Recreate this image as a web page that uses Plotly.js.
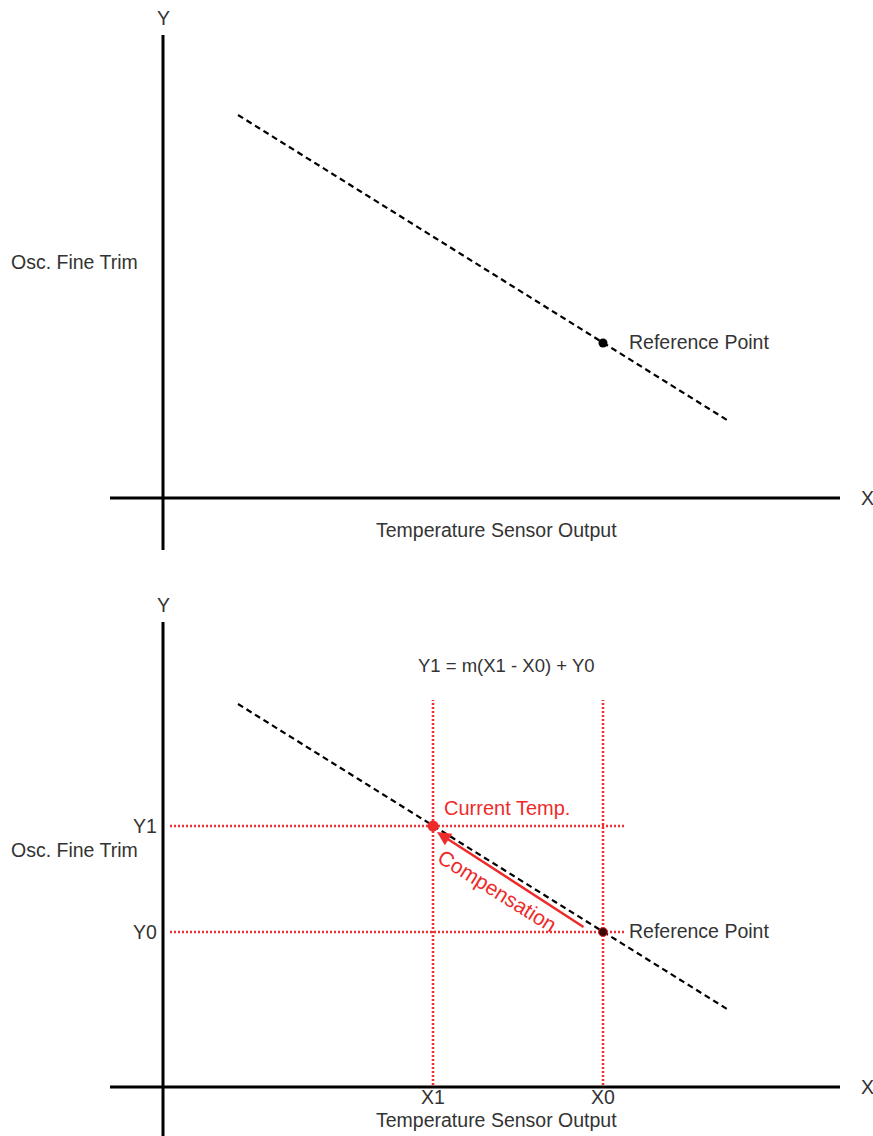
<!DOCTYPE html>
<html>
<head>
<meta charset="utf-8">
<script src="https://cdn.plot.ly/plotly-3.0.1.min.js"></script>
<style>html,body{margin:0;padding:0;background:#fff;}#chart{width:873px;height:1136px;}</style>
</head>
<body>
<div id="chart"></div>
<script>
// ---- data (diagram units: origin at the axis crossing) ----
const trendX = [7.5, 56.4];          // temperature sensor output
const trendY = [38.3, 7.8];          // oscillator fine trim
const referencePoint = [44.0, 15.5]; // X0, Y0
const currentPoint = [27.0, 26.1];   // X1, Y1
const xAxisExtent = [-5.3, 67.7];
const yAxisExtentTop = [-5.2, 46.3];
const yAxisExtentBottom = [-5.0, 46.5];
const guideTop = 38.7;
const guideRight = 46.2;
const guideLeft = 0.7;
const tickLabelsX = ["X1", "X0"];
const tickLabelsY = ["Y1", "Y0"];

const TEXT = '#333333';
const RED = '#ee2b2b';
const FONT = 'Liberation Sans, Arial, sans-serif';
const FS = 19.5;

function panelTraces(xa, ya, yExt) {
  return [
    {x: xAxisExtent, y: [0, 0], xaxis: xa, yaxis: ya, mode: 'lines', line: {color: '#000', width: 3}, hoverinfo: 'skip'},
    {x: [0, 0], y: yExt, xaxis: xa, yaxis: ya, mode: 'lines', line: {color: '#000', width: 3}, hoverinfo: 'skip'},
  ];
}

const traces = [];
traces.push(...panelTraces('x', 'y', yAxisExtentTop));
traces.push(...panelTraces('x2', 'y2', yAxisExtentBottom));

// bottom guides (red dotted)
const X0 = referencePoint[0], Y0 = referencePoint[1];
const X1 = currentPoint[0], Y1 = currentPoint[1];
const dotted = {color: '#f03030', width: 2.6, dash: '2px,2px'};
traces.push({x: [X1, X1], y: [0.2, guideTop], xaxis: 'x2', yaxis: 'y2', mode: 'lines', line: dotted});
traces.push({x: [X0, X0], y: [0.2, guideTop], xaxis: 'x2', yaxis: 'y2', mode: 'lines', line: dotted});
traces.push({x: [guideLeft, guideRight], y: [Y1, Y1], xaxis: 'x2', yaxis: 'y2', mode: 'lines', line: dotted});
traces.push({x: [guideLeft, guideRight], y: [Y0, Y0], xaxis: 'x2', yaxis: 'y2', mode: 'lines', line: dotted});

// trend lines
const dash = {color: '#000', width: 2.2, dash: '6px,4px'};
traces.push({x: trendX, y: trendY, xaxis: 'x', yaxis: 'y', mode: 'lines', line: dash});
traces.push({x: trendX, y: trendY, xaxis: 'x2', yaxis: 'y2', mode: 'lines', line: dash});

// points
traces.push({x: [X0], y: [Y0], xaxis: 'x', yaxis: 'y', mode: 'markers', marker: {color: '#000', size: 9}});
traces.push({x: [X0], y: [Y0], xaxis: 'x2', yaxis: 'y2', mode: 'markers', marker: {color: '#3a0c0c', size: 9, line: {color: RED, width: 1}}});
traces.push({x: [X1], y: [Y1], xaxis: 'x2', yaxis: 'y2', mode: 'markers', marker: {color: RED, size: 11}});

function txt(text, x, y, xa, ya, opts) {
  return Object.assign({text: text, x: x, y: y, xref: xa, yref: ya, showarrow: false, borderpad: 0,
    font: {family: FONT, size: FS, color: TEXT}, xanchor: 'center', yanchor: 'middle'}, opts || {});
}

const ann = [];
[['x', 'y', 48.0, 23.6, -3.2], ['x2', 'y2', 48.2, 23.7, -3.3]].forEach(function (p) {
  const xa = p[0], ya = p[1];
  ann.push(txt('Y', 0, p[2], xa, ya, {font: {family: FONT, size: 19.5, color: TEXT}}));
  ann.push(txt('X', 70.4, 0, xa, ya, {font: {family: FONT, size: 19.5, color: TEXT}}));
  ann.push(txt('Osc. Fine Trim', -15.3, p[3], xa, ya, {xanchor: 'left'}));
  ann.push(txt('Temperature Sensor Output', 33.3, p[4], xa, ya));
  ann.push(txt('Reference Point', 46.5, Y0 + 0.1, xa, ya, {xanchor: 'left'}));
});
ann.push(txt(tickLabelsY[0], -0.5, Y1, 'x2', 'y2', {xanchor: 'right'}));
ann.push(txt(tickLabelsY[1], -0.5, Y0, 'x2', 'y2', {xanchor: 'right'}));
ann.push(txt(tickLabelsX[0], X1, -1.0, 'x2', 'y2'));
ann.push(txt(tickLabelsX[1], X0, -1.0, 'x2', 'y2'));
ann.push(txt('Y1 = m(X1 - X0) + Y0', 34.3, 42.2, 'x2', 'y2', {font: {family: FONT, size: 18.5, color: TEXT}}));
ann.push(txt('Current Temp.', 28.0, 27.9, 'x2', 'y2', {xanchor: 'left', font: {family: FONT, size: 20, color: RED}}));
ann.push(txt('Compensation', 33.4, 19.7, 'x2', 'y2', {textangle: 32, font: {family: FONT, size: 21, color: RED}}));
// compensation arrow (from reference toward current)
ann.push({x: 27.4, y: 25.5, ax: 42.2, ay: 15.9, xref: 'x2', yref: 'y2', axref: 'x2', ayref: 'y2',
  showarrow: true, arrowhead: 2, arrowsize: 1.1, arrowwidth: 2.5, arrowcolor: RED, text: ''});

const axBase = {visible: false, showgrid: false, zeroline: false, fixedrange: true};
const layout = {
  width: 873, height: 1136,
  margin: {l: 0, r: 0, t: 0, b: 0},
  paper_bgcolor: '#fff', plot_bgcolor: '#fff',
  showlegend: false,
  xaxis: Object.assign({}, axBase, {range: [-16.3, 71.0], domain: [0, 1], anchor: 'y'}),
  yaxis: Object.assign({}, axBase, {range: [-7.0, 49.8], domain: [0.5, 1], anchor: 'x'}),
  xaxis2: Object.assign({}, axBase, {range: [-16.3, 71.0], domain: [0, 1], anchor: 'y2'}),
  yaxis2: Object.assign({}, axBase, {range: [-4.9, 51.9], domain: [0, 0.5], anchor: 'x2'}),
  annotations: ann
};
Plotly.newPlot('chart', traces, layout, {staticPlot: true, displayModeBar: false});
</script>
</body>
</html>
